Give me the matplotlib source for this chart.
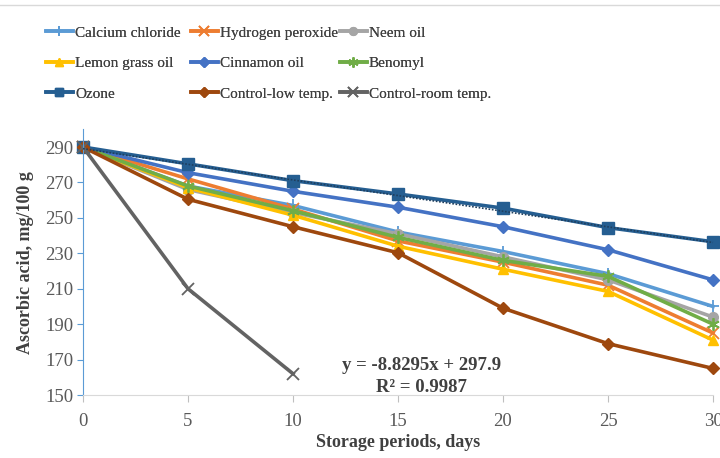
import matplotlib
matplotlib.use("Agg")
import matplotlib.pyplot as plt
import numpy as np
from matplotlib.lines import Line2D

days = [0, 5, 10, 15, 20, 25, 30]
calcium = [290, 268, 257, 242, 231, 218.5, 200]
hydrogen = [290, 272, 255, 237, 225, 212, 185]
neem = [290, 266, 253, 241, 228, 215, 194]
lemon = [290, 267, 251.5, 234, 221, 208.5, 181]
cinnamon = [290, 275.5, 265, 256, 245, 232, 215]
benomyl = [290, 268, 254, 239, 226, 217, 190]
ozone = [290, 280.5, 271, 263.5, 255.5, 244.5, 236.5]
ctrl_low = [290, 260.5, 245, 230.3, 199, 179, 165]
room_days = [0, 5, 10]
ctrl_room = [290, 210, 162]
trend_slope, trend_icpt = -8.8295, 297.9

series = [
    ("Calcium chloride", days, calcium, "#5B9BD5", "+"),
    ("Hydrogen peroxide", days, hydrogen, "#ED7D31", "x"),
    ("Neem oil", days, neem, "#A5A5A5", "o"),
    ("Lemon grass oil", days, lemon, "#FFC000", "^"),
    ("Cinnamon oil", days, cinnamon, "#4472C4", "D"),
    ("Benomyl", days, benomyl, "#70AD47", (6, 2, 0)),
    ("Ozone", days, ozone, "#255E91", "s"),
    ("Control-low temp.", days, ctrl_low, "#9E480E", "D"),
    ("Control-room temp.", room_days, ctrl_room, "#636363", "x"),
]

plt.rcParams['font.family'] = ['Liberation Serif', 'DejaVu Serif']
fig = plt.figure(figsize=(7.2, 4.58), dpi=100)
ax = fig.add_axes([83/720, 1-395/458, (713-83)/720, (395-129.3)/458])

handles = []
for name, x, y, c, m in series:
    thin = m in ("+", "x", (6, 2, 0))
    ms = 9 if thin else (8 if m == "s" else (6 if m == "D" else 7))
    ln, = ax.plot(x, y, color=c, lw=2.6, marker=m, ms=ms,
                  mew=1.3 if thin else 1, mfc=c, mec=c, clip_on=False, label=name)
    handles.append(ln)

idx = np.arange(1, len(days) + 1)
trend = trend_slope * idx + trend_icpt
ax.plot(days, trend, color="#1F3F5F", lw=1.2, ls=(0, (1, 1)), clip_on=False, zorder=5)

ax.set_xlim(0, 30)
ax.set_ylim(150, 300)
ax.set_xticks(days)
ax.set_yticks(np.arange(150, 291, 20))
ax.tick_params(axis='both', labelsize=13.5, colors="#595959")
ax.tick_params(axis='x', length=5, color="#BFBFBF", pad=8)
ax.tick_params(axis='y', length=4, color="#5B9BD5", pad=3)
for s in ("top", "right"):
    ax.spines[s].set_visible(False)
ax.spines["left"].set_color("#5B9BD5")
ax.spines["bottom"].set_color("#D9D9D9")

ax.set_xlabel("Storage periods, days", fontsize=13, fontweight="bold", color="#404040", labelpad=3)
ax.set_ylabel("Ascorbic acid, mg/100 g", fontsize=13, fontweight="bold", color="#404040", labelpad=8)

ax.text(16.1, 166.5, "y = -8.8295x + 297.9", fontsize=13.5, fontweight="bold", color="#404040", ha="center", va="center")
ax.text(16.1, 154.5, "R² = 0.9987", fontsize=13.5, fontweight="bold", color="#404040", ha="center", va="center")

ncol = 3
col_x = [46, 191, 340]
for c in range(ncol):
    col_handles = [handles[r * ncol + c] for r in range(len(handles) // ncol)]
    leg = fig.legend(handles=col_handles, loc="upper left", bbox_to_anchor=(col_x[c]/720, 1-26/458),
                     frameon=False, fontsize=11, handlelength=1.75, handletextpad=0.15,
                     labelspacing=1.1, borderaxespad=0, borderpad=0, markerscale=0.8,
                     labelcolor="#404040")
    fig.add_artist(leg)

fig.add_artist(Line2D([0, 1], [1-5/458, 1-5/458], color="#D9D9D9", lw=1))

fig.savefig("out.png", dpi=100)
